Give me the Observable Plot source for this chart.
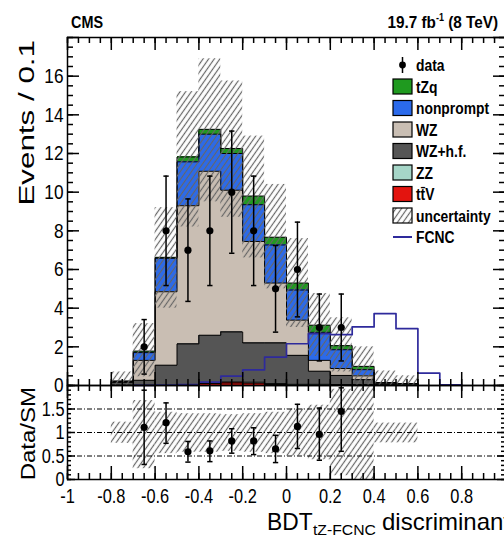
<!DOCTYPE html>
<html>
<head>
<meta charset="utf-8">
<script src="https://cdn.jsdelivr.net/npm/d3@7"></script>
<script src="https://cdn.jsdelivr.net/npm/@observablehq/plot@0.6"></script>
<style>
  html, body { margin: 0; padding: 0; background: #fff; }
  #chart { position: relative; width: 504px; height: 537px; overflow: hidden;
           font-family: "Liberation Sans", Arial, Helvetica, sans-serif; }
  #chart svg { position: absolute; left: 0; }
</style>
</head>
<body>
<div id="chart"></div>
<script>
// ---- binning of the BDT discriminant (width 0.1) ----
const binLo = [-0.8, -0.7, -0.6, -0.5, -0.4, -0.3, -0.2, -0.1, 0.0, 0.1, 0.2, 0.3, 0.4, 0.5];
const binWidth = 0.1;

// ---- expected yields per bin, listed from the bottom of the stack upward ----
const ttV       = [0, 0, 0, 0, 0.10, 0.13, 0.12, 0.05, 0, 0, 0, 0, 0, 0];
const ZZ        = [0.02, 0.02, 0.03, 0.04, 0.04, 0.05, 0.05, 0.05, 0.06, 0.06, 0.05, 0.05, 0.05, 0.04];
const WZhf      = [0.13, 0.25, 1.02, 2.11, 2.46, 2.59, 2.03, 2.10, 1.50, 0.68, 0.47, 0.25, 0.07, 0.06];
const WZ        = [0.07, 1.03, 3.80, 7.15, 8.48, 7.33, 5.25, 3.10, 1.82, 0.56, 0.36, 0.20, 0.03, 0];
const nonprompt = [0, 0.40, 1.73, 2.27, 1.92, 1.90, 1.90, 1.97, 1.56, 1.45, 0.97, 0.32, 0, 0];
const tZq       = [0, 0.08, 0.05, 0.25, 0.25, 0.26, 0.45, 0.40, 0.36, 0.37, 0.21, 0.17, 0, 0];

// ---- total uncertainty band on the prediction ----
const uncLo = [0, 0.45, 4.0, 8.2, 9.5, 8.7, 6.6, 5.0, 3.0, 1.5, 0.7, 0, 0, 0];
const uncHi = [0.7, 3.2, 9.2, 15.2, 16.9, 15.75, 12.9, 10.4, 7.6, 4.76, 3.5, 2.0, 0.75, 0.5];

// ---- FCNC signal ----
const fcncLo = [-0.7, -0.6, -0.5, -0.4, -0.3, -0.2, -0.1, 0.0, 0.1, 0.2, 0.3, 0.4, 0.5, 0.6, 0.7];
const fcnc   = [0.01, 0.02, 0.05, 0.17, 0.48, 0.81, 1.47, 2.16, 2.68, 2.63, 3.03, 3.72, 2.94, 0.64, 0.03];

// ---- observed data ----
const dataX   = [-0.65, -0.55, -0.45, -0.35, -0.25, -0.15, -0.05, 0.05, 0.15, 0.25];
const dataN   = [2, 8, 7, 8, 10, 8, 5, 6, 3, 3];
const dataErr = [1.41, 2.83, 2.65, 2.83, 3.16, 2.83, 2.24, 2.45, 1.73, 1.73];

// ---- data / SM ratio ----
const ratio   = [1.11, 1.21, 0.59, 0.61, 0.82, 0.82, 0.65, 1.13, 0.96, 1.45];
const ratioLo = [0.32, 0.77, 0.37, 0.38, 0.56, 0.53, 0.36, 0.66, 0.41, 0.60];
const ratioHi = [1.90, 1.63, 0.81, 0.82, 1.08, 1.10, 0.94, 1.60, 1.52, 1.95];
const bandLo  = [0.77, 0.23, 0.55, 0.58, 0.58, 0.60, 0.58, 0.55, 0.50, 0.42, 0.08, 0, 0.78, 0.78];
const bandHi  = [1.22, 1.68, 1.43, 1.40, 1.40, 1.38, 1.40, 1.43, 1.50, 1.58, 1.92, 2.0, 1.20, 1.20];
const ratioGrid = [0.5, 1, 1.5];

// ---- axis ticks ----
const xMajor = [-1, -0.8, -0.6, -0.4, -0.2, 0, 0.2, 0.4, 0.6, 0.8, 1];
const xLabels = [-1, -0.8, -0.6, -0.4, -0.2, 0, 0.2, 0.4, 0.6, 0.8];
const xMinor = d3.range(-1, 1.0001, 0.05);
const yMajor = [0, 2, 4, 6, 8, 10, 12, 14, 16, 18];
const yLabels = [0, 2, 4, 6, 8, 10, 12, 14, 16];
const yMinor = d3.range(0, 18.001, 0.5);
const rMajor = [0, 0.5, 1, 1.5, 2];
const rLabels = [0, 0.5, 1, 1.5];
const rMinor = d3.range(0, 2.001, 0.1);

// ---- styling ----
const processes = ["ttV", "ZZ", "WZ+h.f.", "WZ", "nonprompt", "tZq"];
const series = [ttV, ZZ, WZhf, WZ, nonprompt, tZq];
const colorOf = {
  "ttV": "#e3140f", "ZZ": "#a6d6c8", "WZ+h.f.": "#555555",
  "WZ": "#c9beb3", "nonprompt": "#2b6aeb", "tZq": "#1f9a1f"
};
const fcncColor = "#2e2a9c";
const font = "'Liberation Sans', Arial, Helvetica, sans-serif";

// stacked rectangles and the cumulative top of every layer
const stackRects = [];
const layerTops = processes.map(() => []);
binLo.forEach((lo, i) => {
  let base = 0;
  series.forEach((s, k) => {
    stackRects.push({x1: lo, x2: lo + binWidth, y1: base, y2: base + s[i], fill: colorOf[processes[k]]});
    base += s[i];
    layerTops[k].push(base);
  });
});

// histogram outline as step points (closed down to zero at both ends)
function stepPoints(edges, values, key) {
  const n = values.length;
  const pts = [{x: edges[0], y: 0, key}];
  values.forEach((v, i) => pts.push({x: edges[i], y: v, key}));
  pts.push({x: edges[n - 1] + binWidth, y: values[n - 1], key});
  pts.push({x: edges[n - 1] + binWidth, y: 0, key});
  return pts;
}
const outlines = layerTops.flatMap((tops, k) => stepPoints(binLo, tops, processes[k]));
const fcncSteps = stepPoints(fcncLo, fcnc, "FCNC");

const uncRows = binLo.map((lo, i) => ({x1: lo, x2: lo + binWidth, y1: uncLo[i], y2: uncHi[i]}));
const bandRows = binLo.map((lo, i) => ({x1: lo, x2: lo + binWidth, y1: bandLo[i], y2: bandHi[i]}));
const dataRows = dataX.map((x, i) => ({x, n: dataN[i], lo: dataN[i] - dataErr[i], hi: dataN[i] + dataErr[i]}));
const ratioRows = dataX.map((x, i) => ({x, r: ratio[i], lo: ratioLo[i], hi: ratioHi[i]}));

// short horizontal bar used as error-bar end cap
const capSymbol = { draw(ctx, size) { const w = Math.sqrt(size) / 2; ctx.moveTo(-w, 0); ctx.lineTo(w, 0); } };

// inward ROOT-style tick marks on all four sides; lengths are given in pixels
// and turned into data units from the frame size and the scale domains
function inwardTicks(fw, fh, yDomain, ySets) {
  const [y0, y1] = yDomain;
  const xPer = 2 / fw, yPer = (y1 - y0) / fh;
  const tick = {stroke: "black", strokeWidth: 1.5};
  const marks = [];
  [[xMajor, 13], [xMinor, 6]].forEach(([values, len]) => {
    marks.push(Plot.ruleX(values, {x: d => d, y1: y0, y2: y0 + len * yPer, ...tick}));
    marks.push(Plot.ruleX(values, {x: d => d, y1: y1 - len * yPer, y2: y1, ...tick}));
  });
  ySets.forEach(([values, len]) => {
    marks.push(Plot.ruleY(values, {y: d => d, x1: -1, x2: -1 + len * xPer, ...tick}));
    marks.push(Plot.ruleY(values, {y: d => d, x1: 1 - len * xPer, x2: 1, ...tick}));
  });
  return marks;
}

const baseStyle = {fontFamily: font, fontSize: "21px", background: "transparent", overflow: "visible", color: "black"};
const W = 504, ML = 67, MR = -1;
const frameW = W - ML - MR;

// ---------------- upper panel ----------------
const upperH = 386, upperMT = 37, upperMB = 1;
const upper = Plot.plot({
  width: W, height: upperH,
  marginTop: upperMT, marginBottom: upperMB, marginLeft: ML, marginRight: MR,
  x: {domain: [-1, 1], label: null, axis: null},
  y: {domain: [0, 18], label: null},
  color: {type: "identity"},
  style: baseStyle,
  marks: [
    Plot.rect(stackRects, {x1: "x1", x2: "x2", y1: "y1", y2: "y2", fill: "fill", shapeRendering: "crispEdges"}),
    Plot.line(outlines, {x: "x", y: "y", z: "key", curve: "step-after", stroke: "black", strokeWidth: 1}),
    Plot.rect(uncRows, {x1: "x1", x2: "x2", y1: "y1", y2: "y2", fill: "url(#hatchTop)"}),
    Plot.line(fcncSteps, {x: "x", y: "y", curve: "step-after", stroke: fcncColor, strokeWidth: 1.7}),
    Plot.ruleX(dataRows, {x: "x", y1: "lo", y2: "hi", stroke: "black", strokeWidth: 1.5}),
    Plot.dot(dataRows, {x: "x", y: "lo", symbol: capSymbol, r: 3, stroke: "black", strokeWidth: 1.5}),
    Plot.dot(dataRows, {x: "x", y: "hi", symbol: capSymbol, r: 3, stroke: "black", strokeWidth: 1.5}),
    Plot.dot(dataRows, {x: "x", y: "n", r: 3.6, fill: "black"}),
    ...inwardTicks(frameW, upperH - upperMT - upperMB, [0, 18], [[yMajor, 12], [yMinor, 6]]),
    Plot.axisY({anchor: "left", ticks: yLabels, tickSize: 0, tickPadding: 4, tickFormat: d => String(d), label: null, fontSize: 21}),
    Plot.frame({stroke: "black", strokeWidth: 1.5})
  ]
});

// ---------------- ratio panel ----------------
const lowerH = 157, lowerMT = 5, lowerMB = 58;
const lower = Plot.plot({
  width: W, height: lowerH,
  marginTop: lowerMT, marginBottom: lowerMB, marginLeft: ML, marginRight: MR,
  x: {domain: [-1, 1], label: null},
  y: {domain: [0, 2], label: null},
  style: baseStyle,
  marks: [
    Plot.rect(bandRows, {x1: "x1", x2: "x2", y1: "y1", y2: "y2", fill: "url(#hatchRatio)"}),
    Plot.ruleY(ratioGrid, {stroke: "black", strokeWidth: 1, strokeDasharray: "5,2,1,2"}),
    Plot.ruleX(ratioRows, {x: "x", y1: "lo", y2: "hi", stroke: "black", strokeWidth: 1.5}),
    Plot.dot(ratioRows, {x: "x", y: "lo", symbol: capSymbol, r: 3, stroke: "black", strokeWidth: 1.5}),
    Plot.dot(ratioRows, {x: "x", y: "hi", symbol: capSymbol, r: 3, stroke: "black", strokeWidth: 1.5}),
    Plot.dot(ratioRows, {x: "x", y: "r", r: 3.6, fill: "black"}),
    ...inwardTicks(frameW, lowerH - lowerMT - lowerMB, [0, 2], [[rMajor, 8], [rMinor, 4]]),
    Plot.axisX({anchor: "bottom", ticks: xLabels, tickSize: 0, tickPadding: 9, tickFormat: d => String(d), label: null, fontSize: 21}),
    Plot.axisY({anchor: "left", ticks: rLabels, tickSize: 0, tickPadding: 3, tickFormat: d => String(d), label: null, fontSize: 21}),
    Plot.frame({stroke: "black", strokeWidth: 1.5})
  ]
});

const chart = document.getElementById("chart");
upper.style.top = "0px";
lower.style.top = "380px";
chart.appendChild(upper);
chart.appendChild(lower);

// diagonal hatch used for the uncertainty bands
function addHatch(svg, id) {
  const defs = d3.select(svg).append("defs");
  const p = defs.append("pattern").attr("id", id)
    .attr("patternUnits", "userSpaceOnUse").attr("width", 4.6).attr("height", 4.6)
    .attr("patternTransform", "rotate(35)");
  p.append("path").attr("d", "M2.3,-1V6")
    .attr("stroke", "#666666").attr("stroke-width", 1.2).attr("fill", "none");
}
addHatch(upper, "hatchTop");
addHatch(lower, "hatchRatio");

// condensed look for the tick labels: scale each label horizontally about its anchor
function squeeze(svg, k) {
  svg.querySelectorAll("text").forEach(t => {
    if (!t.textContent) return;
    const b = t.getBBox();
    const a = getComputedStyle(t).textAnchor;
    const ax = a === "end" ? b.x + b.width : a === "middle" ? b.x + b.width / 2 : b.x;
    const tr = t.getAttribute("transform") || "";
    t.setAttribute("transform", `${tr} translate(${ax},0) scale(${k},1) translate(${-ax},0)`);
  });
}
squeeze(upper, 0.82);
squeeze(lower, 0.78);

// free text helper
function label(svg, {x, y, text, size, weight = "normal", anchor = "start", rotate = 0, sx = 1, sy = 1}) {
  return d3.select(svg).append("text")
    .attr("transform", `translate(${x},${y}) rotate(${rotate}) scale(${sx},${sy})`)
    .attr("text-anchor", anchor).attr("font-family", font)
    .attr("font-size", size).attr("font-weight", weight).attr("fill", "black")
    .text(text);
}

// header
label(upper, {x: 71, y: 28, text: "CMS", size: 16, weight: "bold", sx: 0.9});
const lumi = d3.select(upper).append("text")
  .attr("transform", "translate(498,28) scale(0.9,1)")
  .attr("text-anchor", "end").attr("font-family", font).attr("font-size", 17).attr("font-weight", "bold");
lumi.append("tspan").text("19.7 fb");
lumi.append("tspan").attr("font-size", 10).attr("dy", -7).text("-1");
lumi.append("tspan").attr("dy", 7).text(" (8 TeV)");

// axis titles
label(upper, {x: 34, y: 40, text: "Events / 0.1", size: 28, anchor: "end", rotate: -90, sx: 1.12, sy: 0.8});
label(lower, {x: 35, y: 7, text: "Data/SM", size: 24, anchor: "end", rotate: -90, sx: 1.0, sy: 0.88});
label(lower, {x: 267, y: 150, text: "BDT", size: 24, sx: 0.95});
label(lower, {x: 313, y: 155, text: "tZ-FCNC", size: 15, sx: 1.05});
label(lower, {x: 382, y: 150, text: "discriminant", size: 24});

// legend
const legendItems = [
  {text: "data", kind: "data"},
  {text: "tZq", kind: "box", fill: colorOf["tZq"]},
  {text: "nonprompt", kind: "box", fill: colorOf["nonprompt"]},
  {text: "WZ", kind: "box", fill: colorOf["WZ"]},
  {text: "WZ+h.f.", kind: "box", fill: colorOf["WZ+h.f."]},
  {text: "ZZ", kind: "box", fill: colorOf["ZZ"]},
  {text: "t\u0074\u0304V", kind: "box", fill: colorOf["ttV"]},
  {text: "uncertainty", kind: "box", fill: "url(#hatchTop)"},
  {text: "FCNC", kind: "line"}
];
const lg = d3.select(upper).append("g");
legendItems.forEach((it, i) => {
  const yc = 65 + i * 21.5;
  if (it.kind === "box") {
    lg.append("rect").attr("x", 393).attr("y", yc - 7.5).attr("width", 19).attr("height", 15)
      .attr("fill", it.fill).attr("stroke", "black").attr("stroke-width", 1.2);
  } else if (it.kind === "data") {
    lg.append("line").attr("x1", 402.5).attr("x2", 402.5).attr("y1", yc - 8).attr("y2", yc + 8)
      .attr("stroke", "black").attr("stroke-width", 1.5);
    lg.append("circle").attr("cx", 402.5).attr("cy", yc).attr("r", 3.4).attr("fill", "black");
  } else {
    lg.append("line").attr("x1", 393).attr("x2", 412).attr("y1", yc).attr("y2", yc)
      .attr("stroke", fcncColor).attr("stroke-width", 2);
  }
  label(upper, {x: 416, y: yc + 6, text: it.text, size: 16.5, weight: "bold", sx: 0.84});
});
</script>
</body>
</html>
